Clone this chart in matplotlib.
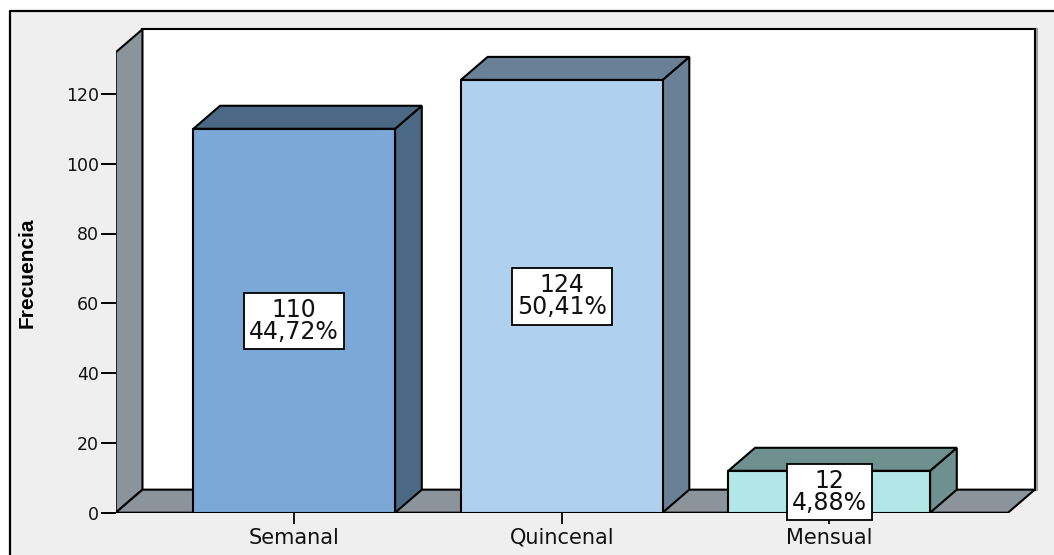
import matplotlib
matplotlib.use("Agg")
import matplotlib.pyplot as plt
from matplotlib.patches import Polygon, Rectangle
from matplotlib.lines import Line2D

# ================================
# Data
# ================================
categories = ["Semanal", "Quincenal", "Mensual"]
frequencies = [110, 124, 12]
percentages = ["44,72%", "50,41%", "4,88%"]
yticks = [0, 20, 40, 60, 80, 100, 120]

front_colors = ["#7ba8d6", "#afd0ee", "#b3e6e6"]
shade_colors = ["#4b6984", "#6a8096", "#6e908e"]
wall_color = "#8b939b"

# ================================
# Figure / axes (3D look, SPSS style)
# ================================
W, H = 1054, 555
fig = plt.figure(figsize=(W / 100, H / 100), dpi=100)
fig.patch.set_facecolor("white")

# outer gray panel, framed only on top and left
fx, fy = 10 / W, (H - 11) / H
fig.add_artist(Rectangle((fx, 0), 1 - fx, fy, transform=fig.transFigure,
                         facecolor="#efefef", edgecolor="none", zorder=-10))
fig.add_artist(Line2D([fx, fx, 1.0], [0, fy, fy], transform=fig.transFigure,
                      color="black", linewidth=1.6, solid_capstyle="butt", zorder=-9))

ax_left, ax_bottom, ax_top, ax_right = 115.7, 512.7, 20, 1040
ax = fig.add_axes([ax_left / W, (H - ax_bottom) / H, (ax_right - ax_left) / W, (ax_bottom - ax_top) / H])
ax.set_zorder(1)
ax.patch.set_alpha(0)

px_x = 267.5   # pixels per category step
px_y = 3.49    # pixels per unit
x0 = -(294.2 - ax_left) / px_x
ax.set_xlim(x0, x0 + (ax_right - ax_left) / px_x)
ax.set_ylim(0, (ax_bottom - ax_top) / px_y)

dx, dy = 0.1, 6.6       # depth offset
half = 0.377            # half bar width
floor_right = (1008 - 294.2) / px_x
wall_top = (ax_bottom - 29.3) / px_y
ec = dict(edgecolor="black", linewidth=1.5, joinstyle="miter")

# back wall (with a soft shadow on the right), left wall, floor
ax.plot([floor_right + dx + 0.008] * 2, [dy, wall_top], color="#9a9a9a", linewidth=1.5)
ax.add_patch(Rectangle((x0 + dx, dy), floor_right - x0, wall_top - dy, facecolor="white", **ec))
ax.add_patch(Polygon([(x0, 0), (x0 + dx, dy), (x0 + dx, wall_top), (x0, wall_top - dy)],
                     facecolor=wall_color, **ec))
ax.add_patch(Polygon([(x0, 0), (x0 + dx, dy), (floor_right + dx, dy), (floor_right, 0)],
                     facecolor=wall_color, **ec))

# bars
for i, (v, fc, sc) in enumerate(zip(frequencies, front_colors, shade_colors)):
    l, r = i - half, i + half
    ax.add_patch(Polygon([(r, 0), (r + dx, dy), (r + dx, v + dy), (r, v)], facecolor=sc, **ec))
    ax.add_patch(Polygon([(l, v), (r, v), (r + dx, v + dy), (l + dx, v + dy)], facecolor=sc, **ec))
    ax.add_patch(Rectangle((l, 0), 2 * half, v, facecolor=fc, **ec))
    ax.text(i, v / 2, f"{v}\n{percentages[i]}", ha="center", va="center", fontsize=17,
            family="DejaVu Sans", color="#111111", linespacing=0.9, clip_on=False, zorder=5,
            bbox=dict(boxstyle="square,pad=0.22", facecolor="white", edgecolor="black", linewidth=1.3))

# axes styling
for s in ax.spines.values():
    s.set_visible(False)
ax.set_yticks(yticks)
ax.set_xticks(range(len(categories)))
ax.set_xticklabels(categories)
ax.tick_params(axis="y", direction="out", length=11, width=1.4, pad=1, labelsize=12.5)
ax.tick_params(axis="x", direction="out", length=8, width=1.3, pad=3, labelsize=15)
for t in ax.get_xticklabels() + ax.get_yticklabels():
    t.set_family("DejaVu Sans")
    t.set_color("#111111")

ax.set_ylabel("Frecuencia", fontsize=15, fontweight="bold",
              family=["Liberation Sans Narrow", "Liberation Sans"], labelpad=0)
ax.yaxis.set_label_coords(-(ax_left - 37) / (ax_right - ax_left), (ax_bottom - 273) / (ax_bottom - ax_top))

fig.savefig("out.png", dpi=100)
